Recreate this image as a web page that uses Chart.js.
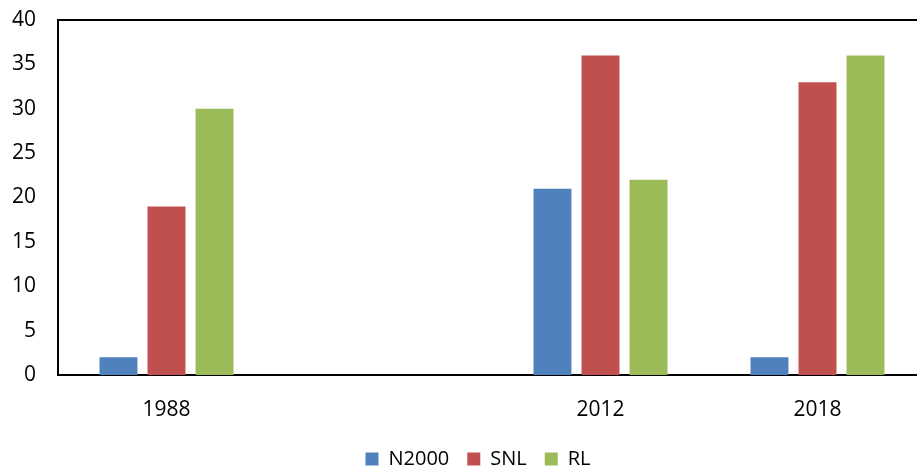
<!DOCTYPE html>
<html>
<head>
<meta charset="utf-8">
<script src="https://cdn.jsdelivr.net/npm/chart.js@4.4.1/dist/chart.umd.min.js"></script>
<style>
  html, body { margin: 0; padding: 0; background: #fff; overflow: hidden; }
  /* the plot runs a little past the right and bottom edges of the frame */
  #wrap { width: 917px; height: 468px; overflow: hidden; }
</style>
</head>
<body>
<div id="wrap"><canvas id="myChart" width="926" height="479"></canvas></div>
<script>
"use strict";

/********/
/* data */
/********/
const years = ["1988", "", "2012", "2018"];
const n2000 = [2, null, 21, 2];
const snl = [19, null, 36, 33];
const rl = [30, null, 22, 36];
const yTicks = [0, 5, 10, 15, 20, 25, 30, 35, 40];

const font = "'Open Sans', 'Liberation Sans', sans-serif";

// draws the top edge of the plot frame
const topLine = {
	id: "topLine",
	afterDraw(chart) {
		const { ctx, chartArea } = chart;
		ctx.save();
		ctx.strokeStyle = "#000";
		ctx.lineWidth = 2;
		ctx.beginPath();
		ctx.moveTo(chartArea.left - 1, chartArea.top);
		ctx.lineTo(chartArea.right, chartArea.top);
		ctx.stroke();
		ctx.restore();
	}
};

// nudge the legend a bit to the right
const legendShift = {
	id: "legendShift",
	afterLayout(chart) {
		chart.legend.left += 15;
		chart.legend.right += 15;
	}
};

function dataset(label, data, color) {
	return {
		label: label,
		data: data,
		backgroundColor: color,
		borderWidth: 0,
		categoryPercentage: 0.664,
		barPercentage: 0.79
	};
}

const ctx = document.getElementById("myChart").getContext("2d");
const chart = new Chart(ctx, {
	type: "bar",
	data: {
		labels: years,
		datasets: [
			dataset("N2000", n2000, "#4F81BD"),
			dataset("SNL", snl, "#C0504D"),
			dataset("RL", rl, "#9BBB59")
		]
	},
	options: {
		responsive: false,
		animation: false,
		layout: { padding: { top: 20, left: 0, right: 0, bottom: 0 } },
		plugins: {
			tooltip: { enabled: false },
			legend: {
				position: "bottom",
				labels: {
					color: "#000",
					font: { family: font, size: 20 },
					boxWidth: 13,
					boxHeight: 13,
					padding: 18
				}
			}
		},
		scales: {
			x: {
				grid: { display: false, drawTicks: false },
				border: { color: "#000", width: 2 },
				ticks: { color: "#000", font: { family: font, size: 21 }, padding: 22 },
				afterFit(scale) { scale.height = 56; }
			},
			y: {
				min: 0,
				max: 40,
				grid: { display: false, drawTicks: false },
				border: { color: "#000", width: 2 },
				afterBuildTicks(scale) { scale.ticks = yTicks.map(v => ({ value: v })); },
				ticks: { color: "#000", font: { family: font, size: 21 }, padding: 22 },
				afterFit(scale) {
					scale.width = 58;
					// the top label may sit above the frame
					scale.paddingTop = 0;
				}
			}
		}
	},
	plugins: [topLine, legendShift]
});
</script>
</body>
</html>
